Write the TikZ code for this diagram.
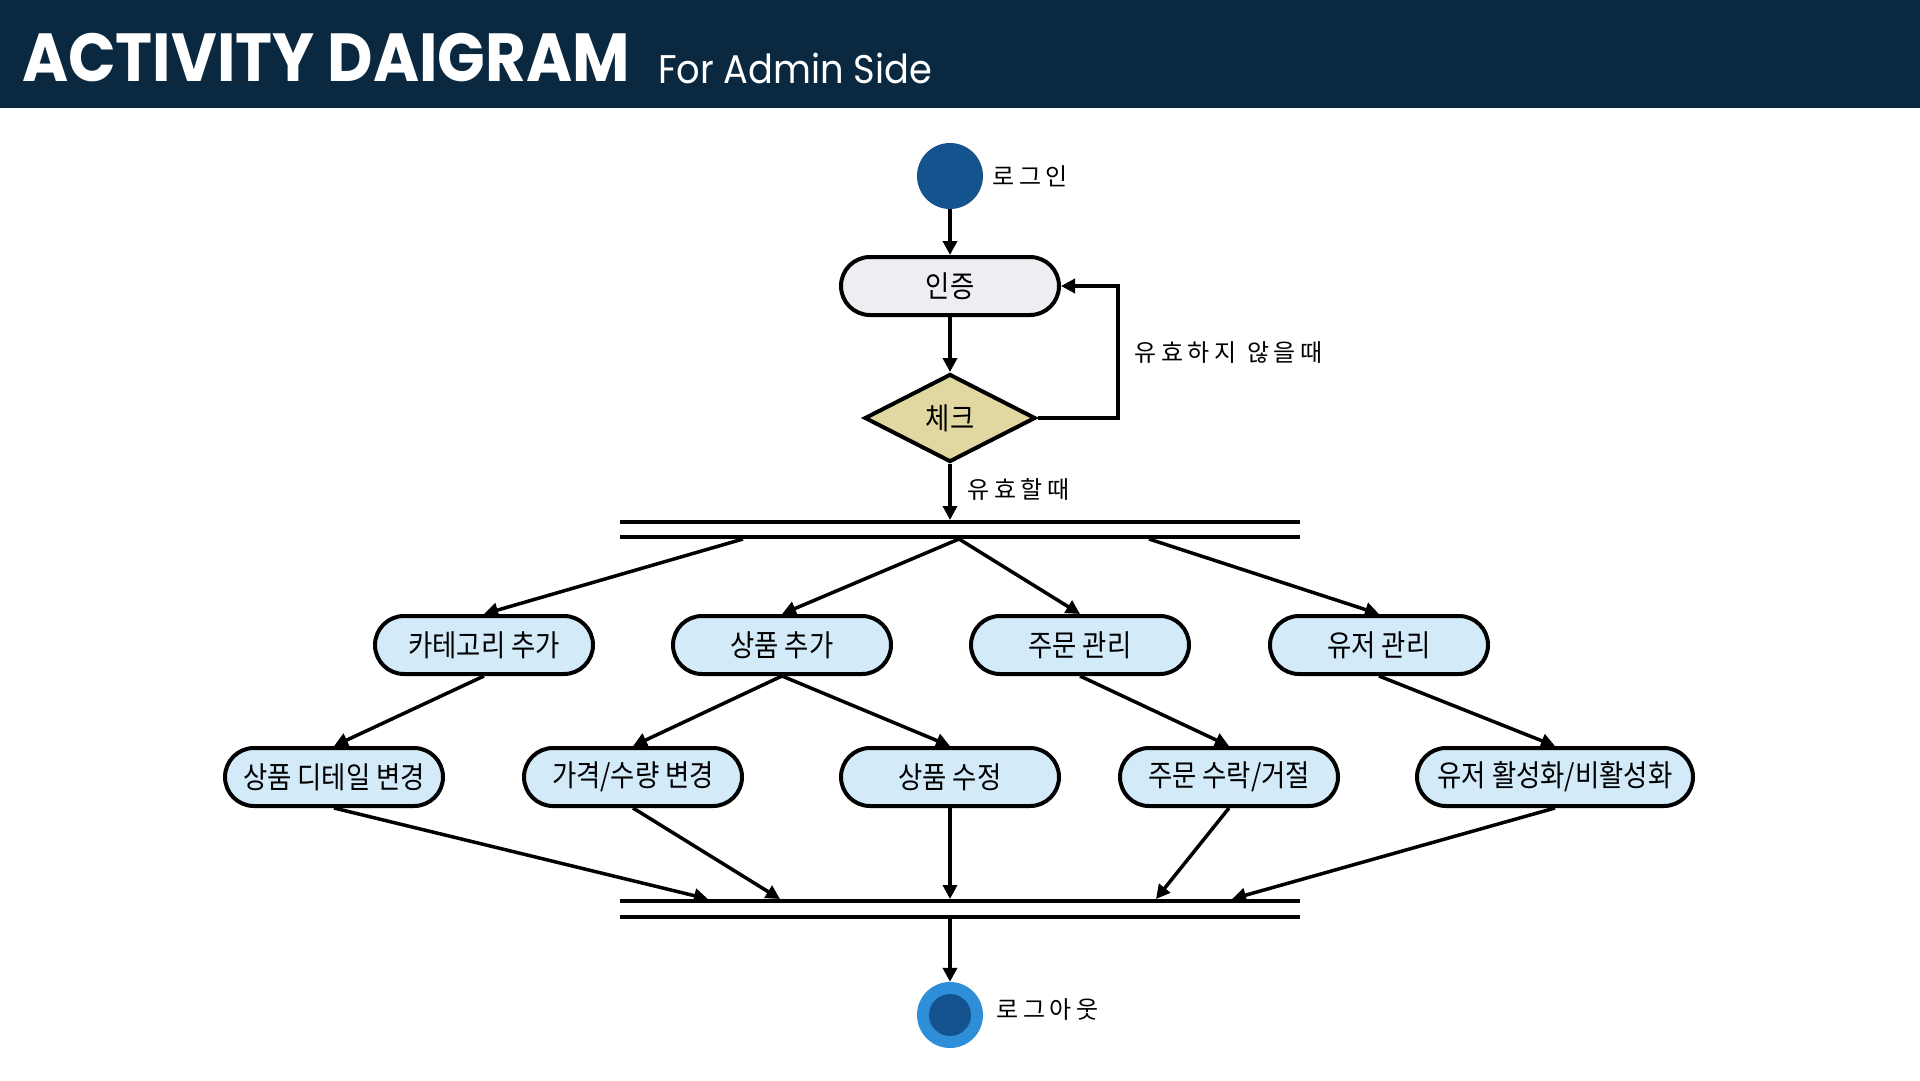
\documentclass[tikz,border=0pt]{standalone}
\usepackage{fontspec}
\usepackage{tikz}
\usetikzlibrary{arrows.meta, shapes.geometric}

\newfontfamily\titlefont{Poppins}[FakeStretch=0.92]
\newfontfamily\krfont{Noto Sans CJK KR}[FakeStretch=0.88]
\newfontfamily\krlabel{Noto Sans CJK KR}[LetterSpace=20]

\definecolor{headbg}{HTML}{0A2940}
\definecolor{startblue}{HTML}{15538E}
\definecolor{endblue}{HTML}{2E8FD8}
\definecolor{actblue}{HTML}{D3EAF9}
\definecolor{authgray}{HTML}{ECEEF1}
\definecolor{checkfill}{HTML}{E0D8A0}

\tikzset{
  act/.style={draw=black, line width=4pt, rounded corners=29pt, fill=actblue,
    minimum width=218pt, minimum height=58pt, inner sep=0pt,
    font=\krfont\fontsize{30}{36}\selectfont},
  flow/.style={line width=3.5pt, -{Triangle[length=14pt,width=14pt]}},
  bar/.style={line width=4pt},
  lbl/.style={anchor=west, inner sep=0pt, font=\krlabel\fontsize{24}{28}\selectfont}
}

\begin{document}
\begin{tikzpicture}[x=1pt, y=-1pt]
	\useasboundingbox (0,0) rectangle (1920,1080);
	\fill[white] (0,0) rectangle (1920,1080);
	% header
	\fill[headbg] (0,0) rectangle (1920,108);
	\node[anchor=base west, inner sep=0pt, text=white, font=\titlefont\bfseries\fontsize{68}{72}\selectfont] (title) at (22,81) {ACTIVITY DAIGRAM};
	\node[anchor=base west, inner sep=0pt, text=white, font=\titlefont\fontsize{40}{44}\selectfont] (subtitle) at (658,83) {For Admin Side};

	% start, check loop
	\node[circle, fill=startblue, minimum size=66pt, inner sep=0pt] (login) at (950,176) {};
	\node[lbl] (loginlbl) at (992,176) {로그인};
	\node[act, fill=authgray] (auth) at (950,286) {인증};
	\node[diamond, draw=black, line width=4pt, fill=checkfill, aspect=1.94, minimum width=171pt, minimum height=88pt, inner sep=0pt, font=\krfont\fontsize{30}{36}\selectfont] (chk) at (950,418) {체크};
	\coordinate (loop) at (1118,350);
	\draw[flow] (login) -- (auth);
	\draw[flow] (auth) -- (chk);
	\draw[flow] (chk.east) -- (chk.east -| loop) -- (auth.east -| loop) -- (auth.east);
	\node[lbl] (invalid) at (1134,353) {유효하지 않을때};
	\node[lbl] (valid) at (967,489) {유효할때};

	% fork bar
	\draw[bar] (620,522) -- (1300,522);
	\draw[bar] (620,537) -- (1300,537);
	\coordinate (forkT) at (950,520);
	\coordinate (fk1) at (743,539);
	\coordinate (fk2) at (959,539);
	\coordinate (fk3) at (1149,539);
	\draw[flow] (chk.south) -- (forkT);

	% first row
	\node[act] (cat) at (484,645) {카테고리 추가};
	\node[act] (padd) at (782,645) {상품 추가};
	\node[act] (ord) at (1080,645) {주문 관리};
	\node[act] (usr) at (1379,645) {유저 관리};
	\draw[flow] (fk1) -- (cat.north);
	\draw[flow] (fk2) -- (padd.north);
	\draw[flow] (fk2) -- (ord.north);
	\draw[flow] (fk3) -- (usr.north);

	% second row
	\node[act] (pdet) at (334,777) {상품 디테일 변경};
	\node[act] (price) at (633,777) {가격/수량 변경};
	\node[act] (pmod) at (950,777) {상품 수정};
	\node[act] (oacc) at (1229,777) {주문 수락/거절};
	\node[act, minimum width=276pt] (uact) at (1555,777) {유저 활성화/비활성화};
	\draw[flow] (cat.south) -- (pdet.north);
	\draw[flow] (padd.south) -- (price.north);
	\draw[flow] (padd.south) -- (pmod.north);
	\draw[flow] (ord.south) -- (oacc.north);
	\draw[flow] (usr.south) -- (uact.north);

	% join bar
	\draw[bar] (620,901) -- (1300,901);
	\draw[bar] (620,917) -- (1300,917);
	\coordinate (jn1) at (708,899);
	\coordinate (jn2) at (780,899);
	\coordinate (jn3) at (950,899);
	\coordinate (jn4) at (1156,899);
	\coordinate (jn5) at (1232,899);
	\coordinate (joinB) at (950,919);
	\draw[flow] (pdet.south) -- (jn1);
	\draw[flow] (price.south) -- (jn2);
	\draw[flow] (pmod.south) -- (jn3);
	\draw[flow] (oacc.south) -- (jn4);
	\draw[flow] (uact.south) -- (jn5);

	% end
	\node[circle, fill=endblue, minimum size=66pt, inner sep=0pt] (logout) at (950,1015) {};
	\node[circle, fill=startblue, minimum size=42pt, inner sep=0pt] (logoutin) at (logout) {};
	\draw[flow] (joinB) -- (logout.north);
	\node[lbl] (logoutlbl) at (996,1009) {로그아웃};
\end{tikzpicture}
\end{document}
